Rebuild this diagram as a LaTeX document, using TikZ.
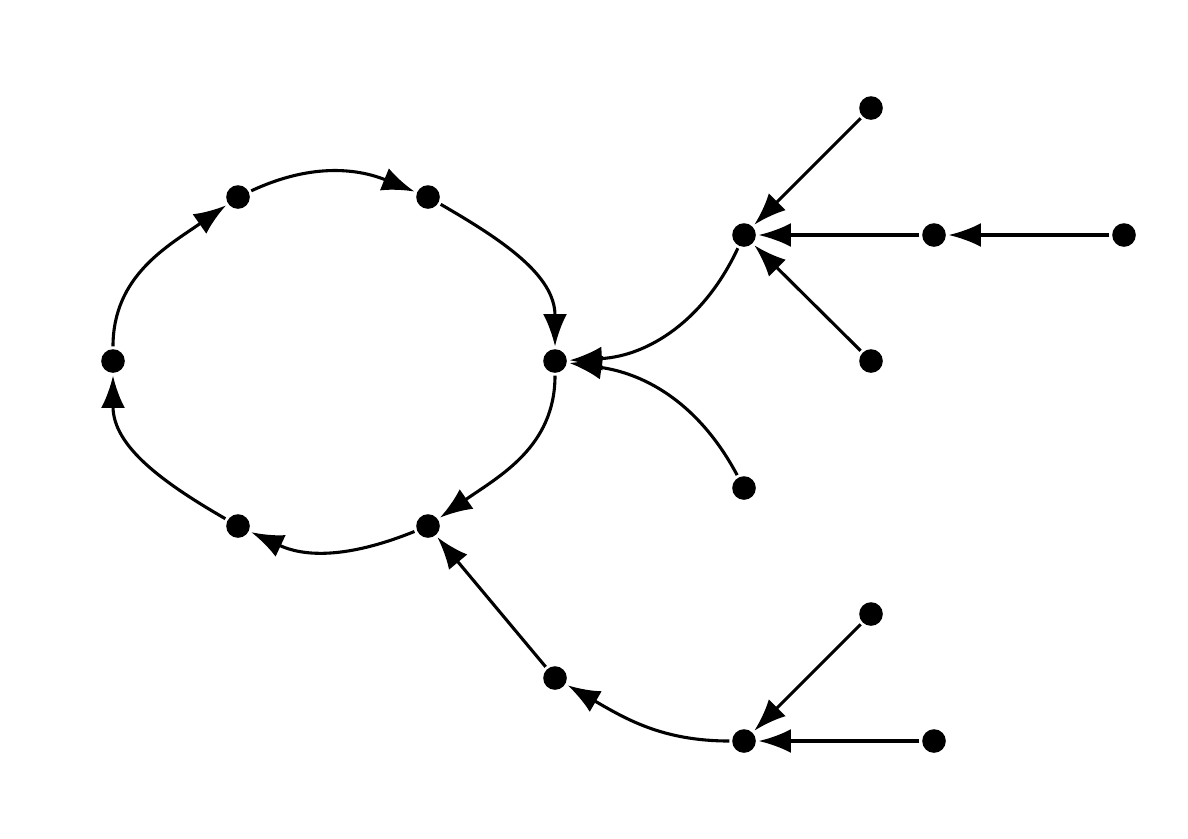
\documentclass[tikz,border=0pt]{standalone}
\usetikzlibrary{arrows.meta}
\begin{document}
\begin{tikzpicture}[x=0.025cm,y=-0.025cm,
  dot/.style={circle,fill=black,inner sep=0pt,minimum size=0.59cm,outer sep=2pt},
  edge/.style={line width=2.2pt,-{Latex[length=23pt,width=17pt]}}]
\useasboundingbox (0,0) rectangle (1188,838);
\node[dot] (A) at (113,361) {};
\node[dot] (B) at (238,197) {};
\node[dot] (C) at (428,197) {};
\node[dot] (D) at (555,361) {};
\node[dot] (E) at (428,526) {};
\node[dot] (F) at (238,526) {};
\node[dot] (G) at (744,235) {};
\node[dot] (H) at (871,108) {};
\node[dot] (I) at (934,235) {};
\node[dot] (J) at (1124,235) {};
\node[dot] (K) at (871,361) {};
\node[dot] (L) at (744,488) {};
\node[dot] (M) at (555,678) {};
\node[dot] (N) at (744,741) {};
\node[dot] (O) at (871,614) {};
\node[dot] (P) at (934,741) {};
\draw[edge] (A) to[out=90,in=-145] (B);
\draw[edge] (B) to[out=25,in=158] (C);
\draw[edge] (C) to[out=-30,in=90] (D);
\draw[edge] (D) to[out=-90,in=35] (E);
\draw[edge] (E) to[out=-158,in=-25] (F);
\draw[edge] (F) to[out=150,in=-90] (A);
\draw[edge] (G) to[out=-115,in=3] (D);
\draw[edge] (L) to[out=118,in=-8] (D);
\draw[edge] (H) -- (G);
\draw[edge] (I) -- (G);
\draw[edge] (K) -- (G);
\draw[edge] (J) -- (I);
\draw[edge] (M) -- (E);
\draw[edge] (N) to[out=180,in=-30] (M);
\draw[edge] (O) -- (N);
\draw[edge] (P) -- (N);
\end{tikzpicture}
\end{document}
